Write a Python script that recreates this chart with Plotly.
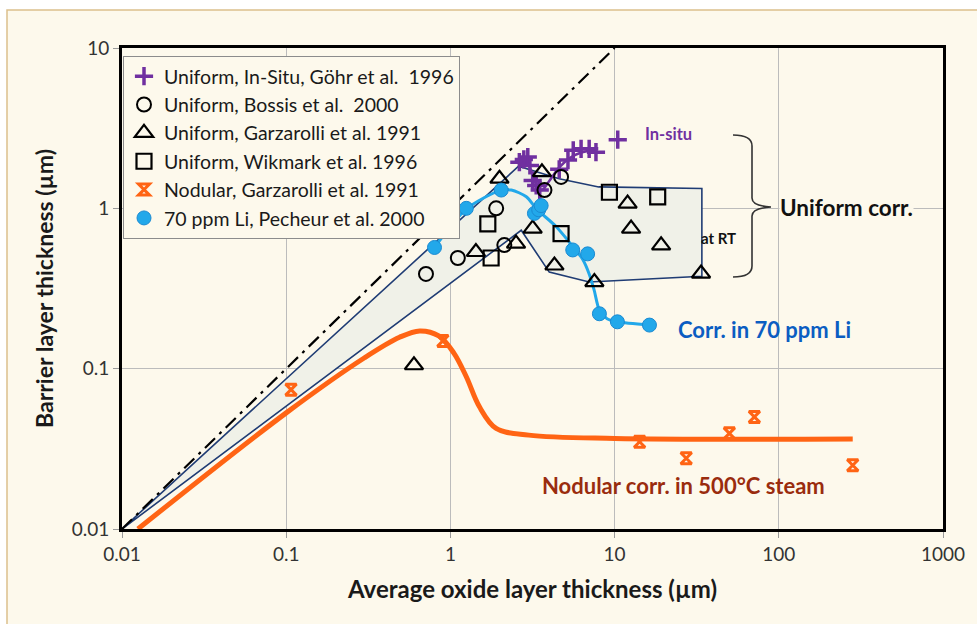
import plotly.graph_objects as go

# ---- axis ticks ----
x_tick_vals = [0.01, 0.1, 1, 10, 100, 1000]
x_tick_text = ["0.01", "0.1", "1", "10", "100", "1000"]
y_tick_vals = [0.01, 0.1, 1, 10]
y_tick_text = ["0.01", "0.1", "1", "10"]

# ---- y = x reference line ----
diag_x = [0.01, 10]
diag_y = [0.01, 10]

# ---- uniform corrosion envelope (closed polygon) ----
env_x = [0.01, 2.6, 4.6, 8.0, 34, 34, 7.0, 4.0, 2.7, 0.01]
env_y = [0.01, 1.83, 1.53, 1.36, 1.33, 0.377, 0.347, 0.40, 0.73, 0.01]

# ---- Uniform, In-Situ, Göhr et al. 1996 ----
gohr_x = [2.63, 2.80, 2.96, 3.05, 3.17, 3.33, 3.5, 4.6, 5.2, 5.6, 6.25, 7.0, 7.7, 10.45]
gohr_y = [1.94, 2.02, 2.09, 1.85, 1.49, 1.39, 1.30, 1.75, 2.0, 2.3, 2.35, 2.35, 2.24, 2.68]
gohr_fit_x = [2.55, 2.9, 3.15, 3.4, 3.6, 4.0, 4.6, 5.3, 6.2, 7.7]
gohr_fit_y = [1.95, 1.95, 1.65, 1.35, 1.30, 1.48, 1.80, 2.05, 2.22, 2.30]

# ---- Uniform, Bossis et al. 2000 ----
bossis_x = [0.71, 1.11, 1.90, 2.13, 3.74, 4.72]
bossis_y = [0.39, 0.49, 1.0, 0.59, 1.30, 1.57]

# ---- Uniform, Garzarolli et al. 1991 ----
garz_x = [0.60, 1.43, 1.99, 2.51, 3.17, 3.61, 4.30, 7.53, 12.0, 12.6, 19.2, 33.6]
garz_y = [0.105, 0.534, 1.53, 0.603, 0.747, 1.68, 0.44, 0.347, 1.07, 0.747, 0.588, 0.392]

# ---- Uniform, Wikmark et al. 1996 ----
wik_x = [1.69, 1.77, 4.72, 9.3, 18.3]
wik_y = [0.80, 0.49, 0.695, 1.26, 1.18]

# ---- Nodular, Garzarolli et al. 1991 ----
nod_x = [0.107, 0.90, 14.2, 27.3, 50, 71, 282]
nod_y = [0.074, 0.149, 0.035, 0.0276, 0.0395, 0.050, 0.025]
nod_fit_x = [0.0125, 0.1, 0.3, 0.49, 0.65, 0.85, 1.05, 1.25, 1.5, 1.9, 3.0, 10, 282]
nod_fit_y = [0.01, 0.053, 0.117, 0.157, 0.172, 0.16, 0.125, 0.089, 0.058, 0.0424, 0.0385, 0.0367, 0.0364]

# ---- 70 ppm Li, Pecheur et al. 2000 ----
li_x = [0.80, 1.25, 2.04, 3.25, 3.45, 3.57, 5.56, 6.85, 8.08, 10.4, 16.3]
li_y = [0.57, 1.0, 1.30, 0.93, 0.98, 1.04, 0.55, 0.52, 0.22, 0.196, 0.187]
li_fit_x = [0.8, 1.25, 2.0, 2.35, 2.9, 3.35, 4.4, 5.55, 6.4, 7.0, 7.5, 8.1, 9.0, 10.4, 16.3]
li_fit_y = [0.57, 0.99, 1.29, 1.30, 1.18, 0.99, 0.77, 0.58, 0.48, 0.39, 0.31, 0.23, 0.205, 0.196, 0.187]

CREAM = "#fdf9ec"
NAVY = "#1f3c74"
PURPLE = "#7030a0"
ORANGE = "#ff6414"
LI_BLUE = "#22a8ea"
FONT = "Lato"

fig = go.Figure()

# envelope of uniform corrosion data
fig.add_trace(go.Scatter(x=env_x, y=env_y, mode="lines", fill="toself",
                         fillcolor="#f0f1e8", line=dict(color=NAVY, width=1.6),
                         showlegend=False, hoverinfo="skip"))
# y = x
fig.add_trace(go.Scatter(x=diag_x, y=diag_y, mode="lines",
                         line=dict(color="black", width=2.2, dash="14px,6px,3px,6px"),
                         showlegend=False, hoverinfo="skip"))
# trend curves
fig.add_trace(go.Scatter(x=nod_fit_x, y=nod_fit_y, mode="lines",
                         line=dict(color=ORANGE, width=5, shape="spline", smoothing=1.0),
                         showlegend=False, hoverinfo="skip"))
fig.add_trace(go.Scatter(x=li_fit_x, y=li_fit_y, mode="lines",
                         line=dict(color=LI_BLUE, width=3, shape="spline", smoothing=0.8),
                         showlegend=False, hoverinfo="skip"))
fig.add_trace(go.Scatter(x=gohr_fit_x, y=gohr_fit_y, mode="lines",
                         line=dict(color=PURPLE, width=2.5, shape="spline", smoothing=1.0),
                         showlegend=False, hoverinfo="skip"))

# data series
fig.add_trace(go.Scatter(x=gohr_x, y=gohr_y, mode="markers", name="Uniform, In-Situ, Göhr et al.  1996",
                         legendgroup="a",
                         marker=dict(symbol="cross-thin-open", size=13, color=PURPLE,
                                     line=dict(color=PURPLE, width=3.5))))
fig.add_trace(go.Scatter(x=bossis_x, y=bossis_y, mode="markers", name="Uniform, Bossis et al.  2000",
                         legendgroup="b",
                         marker=dict(symbol="circle-open", size=14, color="black",
                                     line=dict(color="black", width=2))))
fig.add_trace(go.Scatter(x=garz_x, y=garz_y, mode="markers", name="Uniform, Garzarolli et al. 1991",
                         legendgroup="c",
                         marker=dict(symbol="triangle-up-open", size=16, color="black",
                                     line=dict(color="black", width=2.2))))
fig.add_trace(go.Scatter(x=wik_x, y=wik_y, mode="markers", name="Uniform, Wikmark et al. 1996",
                         legendgroup="d",
                         marker=dict(symbol="square-open", size=15, color="black",
                                     line=dict(color="black", width=2.2))))
fig.add_trace(go.Scatter(x=nod_x, y=nod_y, mode="markers", name="Nodular, Garzarolli et al. 1991",
                         legendgroup="e",
                         marker=dict(symbol="hourglass-open", size=11, color=ORANGE,
                                     line=dict(color=ORANGE, width=3))))
fig.add_trace(go.Scatter(x=li_x, y=li_y, mode="markers", name="70 ppm Li, Pecheur et al. 2000",
                         legendgroup="f",
                         marker=dict(symbol="circle", size=14, color=LI_BLUE,
                                     line=dict(color="#1a8ad2", width=1))))

# pixel -> paper helpers for the page layout (plot area 122..943 x 48..529)
L, R, T, B = 122, 943, 48, 529


def px(x):
    return (x - L) / (R - L)


def py(y):
    return (B - y) / (B - T)


def pt(x, y):
    return f"{px(x):.5f},{py(y):.5f}"


brace = ("M" + pt(733, 135) + " Q" + pt(752, 135) + " " + pt(752, 146) +
         " L" + pt(752, 198) + " Q" + pt(752, 206) + " " + pt(771, 207) +
         " Q" + pt(752, 208) + " " + pt(752, 216) + " L" + pt(752, 266) +
         " Q" + pt(752, 277) + " " + pt(733, 277))

shapes = [
    # page panel with tan edge
    dict(type="rect", xref="paper", yref="paper", x0=px(7), y0=py(10), x1=px(990), y1=py(640),
         fillcolor=CREAM, line=dict(color="#dcc08c", width=1.5), layer="below"),
    dict(type="path", xref="paper", yref="paper", path=brace,
         line=dict(color="#333333", width=1.6)),
]

annotations = [
    dict(x=1.328, y=0.461, xref="x", yref="y", text="<b>In-situ</b>", showarrow=False,
         font=dict(family=FONT, size=16.5, color=PURPLE)),
    dict(x=1.63, y=-0.187, xref="x", yref="y", text="<b>at RT</b>", showarrow=False,
         font=dict(family=FONT, size=15, color="#111111")),
    dict(x=2.0, y=0.006, xref="x", yref="y", text="<b>Uniform corr.</b>", showarrow=False,
         xanchor="left", bgcolor=CREAM, borderpad=0,
         font=dict(family=FONT, size=22.5, color="#111111")),
    dict(x=1.372, y=-0.754, xref="x", yref="y", text="<b>Corr. in 70 ppm Li</b>", showarrow=False,
         xanchor="left", font=dict(family=FONT, size=22, color="#0b5dc2")),
    dict(x=0.545, y=-1.726, xref="x", yref="y", text="<b>Nodular corr. in 500°C steam</b>",
         showarrow=False, xanchor="left", font=dict(family=FONT, size=22, color="#9a2c0e")),
]

axis_common = dict(type="log", showgrid=True, gridcolor="#bcbcbc", gridwidth=1,
                   showline=True, linecolor="black", linewidth=3, mirror=True,
                   ticks="outside", ticklen=6, tickcolor="#9a9a9a", zeroline=False,
                   tickfont=dict(family=FONT, size=19, color="#333333"))

fig.update_layout(
    width=977, height=624,
    margin=dict(l=L, r=977 - R, t=T, b=624 - B),
    paper_bgcolor="white", plot_bgcolor=CREAM,
    font=dict(family=FONT, color="#111111"),
    xaxis=dict(axis_common, range=[-2, 3], tickvals=x_tick_vals, ticktext=x_tick_text,
               title=dict(text="<b>Average oxide layer thickness (µm)</b>", standoff=18,
                          font=dict(family=FONT, size=24, color="#1a1a1a"))),
    yaxis=dict(axis_common, range=[-2, 1], tickvals=y_tick_vals, ticktext=y_tick_text,
               title=dict(text="<b>Barrier layer thickness (µm)</b>", standoff=12,
                          font=dict(family=FONT, size=23, color="#1a1a1a"))),
    legend=dict(x=px(123), y=py(56), xanchor="left", yanchor="top",
                bgcolor=CREAM, bordercolor="#8c8c8c", borderwidth=1,
                font=dict(family=FONT, size=19.5, color="#1a1a1a"),
                tracegroupgap=0, traceorder="grouped", itemwidth=30),
    shapes=shapes,
    annotations=annotations,
    hovermode=False,
)

fig.write_html("out.html")
